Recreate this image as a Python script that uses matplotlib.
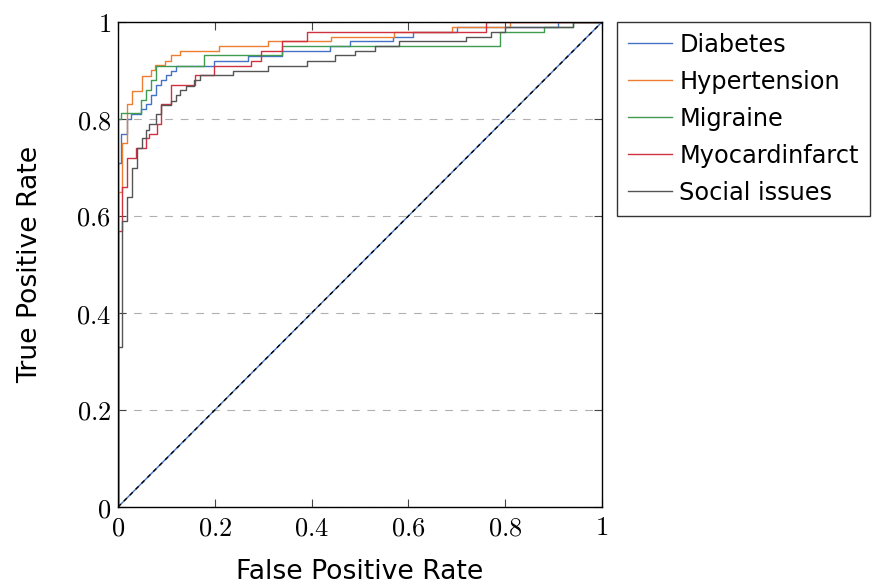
import matplotlib
matplotlib.use("Agg")
import matplotlib.pyplot as plt

plt.rcParams['mathtext.fontset'] = 'cm'
plt.rcParams['font.family'] = ['DejaVu Sans']

# ROC curves, corner points (steps-post)
diabetes_fpr = [0, 0, 0.007, 0.018, 0.026, 0.047, 0.058, 0.068, 0.078, 0.088, 0.099, 0.109,
                0.119, 0.199, 0.269, 0.339, 0.438, 0.479, 0.569, 0.61, 0.70, 0.909, 1.0]
diabetes_tpr = [0, 0.71, 0.77, 0.80, 0.81, 0.82, 0.83, 0.85, 0.87, 0.88, 0.89, 0.90,
                0.91, 0.92, 0.93, 0.94, 0.95, 0.96, 0.97, 0.98, 0.99, 1.0, 1.0]

hyper_fpr = [0, 0, 0.009, 0.018, 0.028, 0.049, 0.068, 0.076, 0.097, 0.109, 0.128, 0.209,
             0.31, 0.44, 0.57, 0.69, 0.81, 1.0]
hyper_tpr = [0, 0.65, 0.75, 0.83, 0.858, 0.889, 0.901, 0.911, 0.920, 0.931, 0.941, 0.951,
             0.961, 0.97, 0.98, 0.99, 1.0, 1.0]

migraine_fpr = [0, 0, 0.007, 0.047, 0.057, 0.068, 0.078, 0.178, 0.339, 0.789, 0.88, 0.94, 1.0]
migraine_tpr = [0, 0.80, 0.812, 0.839, 0.86, 0.88, 0.91, 0.931, 0.95, 0.98, 0.99, 1.0, 1.0]

myo_fpr = [0, 0, 0.009, 0.018, 0.037, 0.058, 0.064, 0.081, 0.088, 0.109, 0.159, 0.199,
           0.274, 0.295, 0.339, 0.39, 0.76, 1.0]
myo_tpr = [0, 0.57, 0.66, 0.72, 0.74, 0.76, 0.77, 0.79, 0.83, 0.87, 0.89, 0.91,
           0.92, 0.94, 0.96, 0.98, 1.0, 1.0]

social_fpr = [0, 0, 0.009, 0.018, 0.028, 0.039, 0.049, 0.058, 0.064, 0.078, 0.088, 0.109,
              0.119, 0.129, 0.14, 0.157, 0.169, 0.238, 0.309, 0.39, 0.448, 0.49, 0.53,
              0.58, 0.72, 0.77, 0.80, 0.94, 1.0]
social_tpr = [0, 0.33, 0.59, 0.64, 0.70, 0.74, 0.76, 0.777, 0.79, 0.81, 0.829, 0.838,
              0.849, 0.86, 0.869, 0.88, 0.89, 0.90, 0.91, 0.92, 0.931, 0.94, 0.95,
              0.96, 0.97, 0.98, 0.99, 1.0, 1.0]

labels = ['Diabetes', 'Hypertension', 'Migraine', 'Myocardinfarct', 'Social issues']
colors = ['#4472C4', '#ED7D31', '#3E9B4F', '#D0303F', '#555555']
curves = [(diabetes_fpr, diabetes_tpr), (hyper_fpr, hyper_tpr), (migraine_fpr, migraine_tpr),
          (myo_fpr, myo_tpr), (social_fpr, social_tpr)]

ticks = [0, 0.2, 0.4, 0.6, 0.8, 1]
tick_labels = ['0', '0.2', '0.4', '0.6', '0.8', '1']

fig = plt.figure(figsize=(8.78, 5.86), dpi=100)
ax = fig.add_axes([118 / 878, 79 / 586, 484 / 878, 485 / 586])

for (fpr, tpr), lab, col in zip(curves, labels, colors):
    ax.plot(fpr, tpr, drawstyle='steps-post', color=col, lw=1.0, label=lab)

# chance line
ax.plot([0, 1], [0, 1], color='#4472C4', lw=1.0)
ax.plot([0, 1], [0, 1], color='black', lw=1.0, ls=(0, (3, 3)))

ax.set_xlim(0, 1)
ax.set_ylim(0, 1)
ax.set_xticks(ticks)
ax.set_yticks(ticks)
ax.set_xticklabels(['$' + t + '$' for t in tick_labels], fontsize=19)
ax.set_yticklabels(['$' + t + '$' for t in tick_labels], fontsize=19)
ax.tick_params(direction='in', top=True, right=True, length=6, width=0.8,
               color='#444444')
ax.tick_params(axis='x', pad=6)
ax.tick_params(axis='y', pad=5)
ax.yaxis.grid(True, color='#b0b0b0', ls=(0, (7, 7)), lw=0.8)
ax.set_axisbelow(True)
for s in ax.spines.values():
    s.set_linewidth(1.0)
    s.set_color('black')

ax.set_xlabel('False Positive Rate', fontsize=19.2, labelpad=13)
ax.set_ylabel('True Positive Rate', fontsize=19.2, labelpad=24)

leg = ax.legend(loc='upper left', bbox_to_anchor=(1.031, 1.0), borderaxespad=0,
                fontsize=17.3, frameon=True, fancybox=False, edgecolor='black',
                handlelength=1.85, handletextpad=0.3, labelspacing=0.54,
                borderpad=0.45)
leg.get_frame().set_linewidth(1.0)

fig.savefig('out.png', dpi=100)
